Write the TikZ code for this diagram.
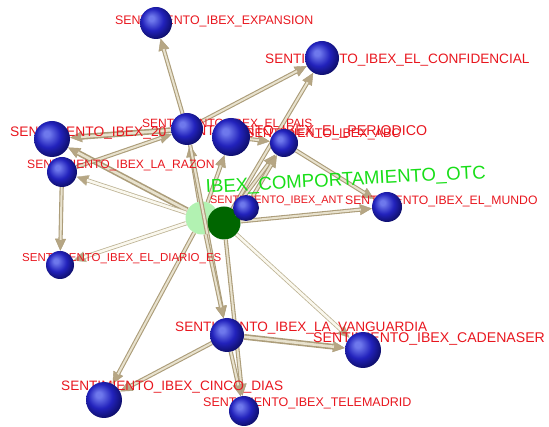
\documentclass[tikz,border=0pt]{standalone}
\usepackage{fontspec}
\setmainfont{Liberation Sans}
\usepackage{xcolor}
\usepackage{tikz}
\usetikzlibrary{arrows.meta}
\definecolor{sphhi}{RGB}{110,120,236}
\definecolor{sphmid}{RGB}{34,34,188}
\definecolor{sphdark}{RGB}{12,12,98}
\definecolor{otclight}{RGB}{178,242,178}
\definecolor{otcdark}{RGB}{0,102,0}
\definecolor{lnkdark}{RGB}{172,157,122}
\definecolor{lnklight}{RGB}{232,226,206}
\definecolor{lnkhead}{RGB}{182,166,132}
\definecolor{paledark}{RGB}{190,180,150}
\definecolor{palelight}{RGB}{250,248,238}
\definecolor{labred}{RGB}{232,22,30}
\definecolor{labgreen}{RGB}{24,222,24}
\pgfdeclareradialshading{bluesphere}{\pgfpoint{-8bp}{8bp}}{color(0bp)=(sphhi); color(4bp)=(sphhi); color(17bp)=(sphmid); color(30bp)=(sphdark); color(50bp)=(sphdark)}
\pgfdeclarelayer{greens}
\pgfdeclarelayer{links}
\pgfdeclarelayer{texts}
\pgfsetlayers{greens,links,texts,main}
\newcommand\lsz[1]{\fontsize{#1}{#1}\selectfont}
\tikzstyle{sph}=[circle,inner sep=0pt,shade,shading=bluesphere]
\tikzstyle{otcball}=[circle,inner sep=0pt,minimum size=33pt]
\tikzstyle{lbl}=[inner sep=0pt,anchor=base west,text=labred]
\tikzstyle{lnkhd}=[-{Triangle[length=12pt,width=11pt,line width=.4pt,fill=lnkhead]}]
\tikzstyle{lnk}=[draw=lnkdark,line width=4.2pt,lnkhd,postaction={draw=lnklight,line width=2pt,-,shorten >=11pt}]
\tikzstyle{lnkthick}=[draw=lnkdark,line width=5.8pt,lnkhd,postaction={draw=lnklight,line width=2.6pt,-,shorten >=11pt}]
\tikzstyle{lnkpale}=[draw=paledark,line width=4.2pt,lnkhd,postaction={draw=palelight,line width=2.6pt,-,shorten >=11pt}]

\begin{document}
\begin{tikzpicture}[x=1pt,y=-1pt]
	\useasboundingbox (0,0) rectangle (549,427);
	% spheres
	\node[sph,minimum size=32pt] (exp)  at (156,23)  {};
	\node[sph,minimum size=34pt] (conf) at (322,58)  {};
	\node[sph,minimum size=36pt] (vmin) at (52,139)  {};
	\node[sph,minimum size=32pt] (pais) at (187,129) {};
	\node[sph,minimum size=38pt] (peri) at (231,137) {};
	\node[sph,minimum size=28pt] (abc)  at (284,143) {};
	\node[sph,minimum size=30pt] (raz)  at (62,172)  {};
	\node[sph,minimum size=26pt] (ant)  at (246,208) {};
	\node[sph,minimum size=30pt] (mun)  at (387,207) {};
	\node[sph,minimum size=28pt] (dia)  at (60,265)  {};
	\node[sph,minimum size=34pt] (van)  at (227,335) {};
	\node[sph,minimum size=36pt] (cad)  at (363,350) {};
	\node[sph,minimum size=36pt] (cin)  at (104,400) {};
	\node[sph,minimum size=30pt] (tel)  at (244,411) {};
	\begin{pgfonlayer}{greens}
	\node[otcball,fill=otclight] (otc)  at (202,218) {};
	\node[otcball,fill=otcdark]  (otcb) at (224,223) {};
	\end{pgfonlayer}
	\begin{pgfonlayer}{links}
	\draw[lnk] (pais) -- (exp);
	\draw[lnk] (pais) -- (conf);
	\draw[lnk] (otcb) -- (conf);
	\draw[lnkthick] (pais) -- (vmin);
	\draw[lnkthick] (otc) -- (vmin);
	\draw[lnk] (raz) -- (pais);
	\draw[lnkpale] (otc) -- (raz);
	\draw[lnk] (raz) -- (dia);
	\draw[lnkpale] (otc) -- (dia);
	\draw[lnk] (otc) -- (cin);
	\draw[lnk] (van) -- (cin);
	\draw[lnkthick] (van) -- (cad);
	\draw[lnkpale] (otcb) -- (cad);
	\draw[lnk] (otcb) -- (mun);
	\draw[lnk] (abc) -- (mun);
	\draw[lnk] (otcb) -- (abc);
	\draw[lnk] (ant) -- (abc);
	\draw[lnk] (peri) -- (abc);
	\draw[lnk] (otc) -- (peri);
	\draw[lnk] (otc) -- (pais);
	\draw[lnk] (pais) -- (van);
	\draw[lnk] (otc) -- (van);
	\draw[lnk] (otcb) -- (tel);
	\draw[lnk] (van) -- (tel);
	\draw[lnk] (otcb) -- (ant);
	\end{pgfonlayer}
	\begin{pgfonlayer}{texts}
	\node[lbl,font=\lsz{12.4}] (lexp)  at (115,24.5) {SENTIMIENTO\_IBEX\_EXPANSION};
	\node[lbl,font=\lsz{13.6}] (lconf) at (265,64)   {SENTIMIENTO\_IBEX\_EL\_CONFIDENCIAL};
	\node[lbl,font=\lsz{13.8}] (lvmin) at (10,137)   {SENTIMIENTO\_IBEX\_20};
	\node[lbl,font=\lsz{12}]   (lpais) at (142,127.5) {SENTIMIENTO\_IBEX\_EL\_PAIS};
	\node[lbl,font=\lsz{14.2}] (lperi) at (177,136)  {SENTIMIENTO\_IBEX\_EL\_PERIODICO};
	\node[lbl,font=\lsz{12.6}] (labc)  at (246,138)  {SENTIMIENTO\_IBEX\_ABC};
	\node[lbl,font=\lsz{12.1}] (lraz)  at (27,168.5) {SENTIMIENTO\_IBEX\_LA\_RAZON};
	\node[lbl,font=\lsz{10.9}] (lant)  at (210,204)  {SENTIMIENTO\_IBEX\_ANT};
	\node[lbl,font=\lsz{12.2}] (lmun)  at (345,204.5) {SENTIMIENTO\_IBEX\_EL\_MUNDO};
	\node[lbl,font=\lsz{11.5}] (ldia)  at (22,262)   {SENTIMIENTO\_IBEX\_EL\_DIARIO\_ES};
	\node[lbl,font=\lsz{13.6}] (lvan)  at (175,332)  {SENTIMIENTO\_IBEX\_LA\_VANGUARDIA};
	\node[lbl,font=\lsz{14.1}] (lcad)  at (313,343)  {SENTIMIENTO\_IBEX\_CADENASER};
	\node[lbl,font=\lsz{13.6}] (lcin)  at (61,391)   {SENTIMIENTO\_IBEX\_CINCO\_DIAS};
	\node[lbl,font=\lsz{12.5}] (ltel)  at (203,406.5) {SENTIMIENTO\_IBEX\_TELEMADRID};
	\node[lbl,font=\lsz{18.6},text=labgreen,rotate=3] (lotc) at (206,193) {IBEX\_COMPORTAMIENTO\_OTC};
	\end{pgfonlayer}
\end{tikzpicture}
\end{document}
